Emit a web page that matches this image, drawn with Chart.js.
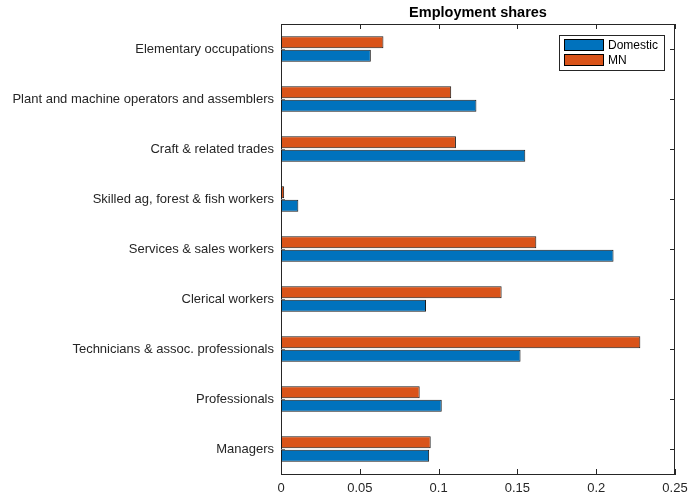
<!DOCTYPE html>
<html lang="en">
<head>
<meta charset="UTF-8">
<title>Employment shares</title>
<script src="https://cdn.jsdelivr.net/npm/chart.js"></script>
<style>
  html,body{margin:0;padding:0;background:#fff}
  #wrap{width:689px;height:495px;position:relative}
</style>
</head>
<body>
<div id="wrap"><canvas id="shareChart"></canvas></div>
<script>
// occupation groups, top to bottom
const occupations = [
  'Elementary occupations',
  'Plant and machine operators and assemblers',
  'Craft & related trades',
  'Skilled ag, forest & fish workers',
  'Services & sales workers',
  'Clerical workers',
  'Technicians & assoc. professionals',
  'Professionals',
  'Managers'
];
const domestic = [0.057, 0.124, 0.155, 0.011, 0.211, 0.092, 0.152, 0.102, 0.094];
const mn       = [0.065, 0.108, 0.111, 0.002, 0.162, 0.140, 0.228, 0.088, 0.095];
const xTicks   = [0, 0.05, 0.1, 0.15, 0.2, 0.25];

const BLUE = '#0072BD', ORANGE = '#D95319', INK = '#262626';
const FONT = '"Liberation Sans", Arial, sans-serif';

/* box, inward ticks, title and legend drawn matlab-style */
const frame = {
  id: 'frame',
  afterDraw(chart) {
    const {ctx, chartArea: a, scales: {x, y}} = chart;
    ctx.save();
    ctx.lineWidth = 1;
    ctx.strokeStyle = INK;
    ctx.beginPath();
    ctx.moveTo(a.left, a.top + 0.5); ctx.lineTo(a.right, a.top + 0.5);
    ctx.moveTo(a.right - 0.5, a.top); ctx.lineTo(a.right - 0.5, a.bottom);
    xTicks.forEach(v => {
      const px = Math.round(x.getPixelForValue(v)) + 0.5;
      ctx.moveTo(px, a.bottom); ctx.lineTo(px, a.bottom - 5);
      ctx.moveTo(px, a.top); ctx.lineTo(px, a.top + 5);
    });
    occupations.forEach((_, i) => {
      const py = Math.round(y.getPixelForValue(i)) + 0.5;
      ctx.moveTo(a.right, py); ctx.lineTo(a.right - 5, py);
    });
    ctx.stroke();
    ctx.strokeStyle = '#777';
    ctx.beginPath();
    occupations.forEach((_, i) => {
      const py = Math.round(y.getPixelForValue(i)) + 0.5;
      ctx.moveTo(a.left, py); ctx.lineTo(a.left + 4, py);
    });
    ctx.stroke();

    // title
    ctx.fillStyle = '#000';
    ctx.font = 'bold 14.5px ' + FONT;
    ctx.textAlign = 'center';
    ctx.textBaseline = 'middle';
    ctx.fillText('Employment shares', (a.left + a.right) / 2, 13);

    // legend
    const lx = 559.5, ly = 35.5, lw = 105, lh = 35;
    ctx.fillStyle = '#fff';
    ctx.fillRect(lx, ly, lw, lh);
    ctx.strokeStyle = INK;
    ctx.strokeRect(lx, ly, lw, lh);
    const items = [['Domestic', BLUE], ['MN', ORANGE]];
    items.forEach(([label, col], i) => {
      const sy = ly + 4 + i * 15;
      ctx.fillStyle = col;
      ctx.fillRect(lx + 5, sy, 39, 11);
      ctx.strokeStyle = '#000';
      ctx.strokeRect(lx + 5, sy, 39, 11);
      ctx.fillStyle = '#000';
      ctx.font = '12px ' + FONT;
      ctx.textAlign = 'left';
      ctx.fillText(label, lx + 48.5, sy + 6);
    });
    ctx.restore();
  }
};

new Chart(document.getElementById('shareChart'), {
  type: 'bar',
  data: {
    labels: occupations,
    datasets: [
      {label: 'MN', data: mn, backgroundColor: ORANGE, borderColor: '#1a1a1a',
       borderWidth: 1, borderSkipped: false, categoryPercentage: 0.54, barPercentage: 0.9},
      {label: 'Domestic', data: domestic, backgroundColor: BLUE, borderColor: '#1a1a1a',
       borderWidth: 1, borderSkipped: false, categoryPercentage: 0.54, barPercentage: 0.9}
    ]
  },
  options: {
    indexAxis: 'y',
    responsive: true,
    maintainAspectRatio: false,
    animation: false,
    layout: {padding: {top: 24, right: 14, left: 0, bottom: 0}},
    plugins: {legend: {display: false}, tooltip: {enabled: false}, title: {display: false}},
    scales: {
      x: {
        min: 0, max: 0.25,
        afterBuildTicks: s => { s.ticks = xTicks.map(v => ({value: v})); },
        afterFit: s => { s.height = 21; s.paddingLeft = 0; s.paddingRight = 0; },
        grid: {display: false, drawTicks: false},
        border: {display: true, color: INK, width: 1},
        ticks: {color: INK, font: {family: FONT, size: 13}, padding: 7, maxRotation: 0,
                callback: v => String(v)}
      },
      y: {
        afterFit: s => { s.width = 281; s.paddingTop = 0; s.paddingBottom = 0; },
        grid: {display: false, drawTicks: false},
        border: {display: true, color: INK, width: 1},
        ticks: {color: INK, font: {family: FONT, size: 13}, padding: 7}
      }
    }
  },
  plugins: [frame]
});
</script>
</body>
</html>
